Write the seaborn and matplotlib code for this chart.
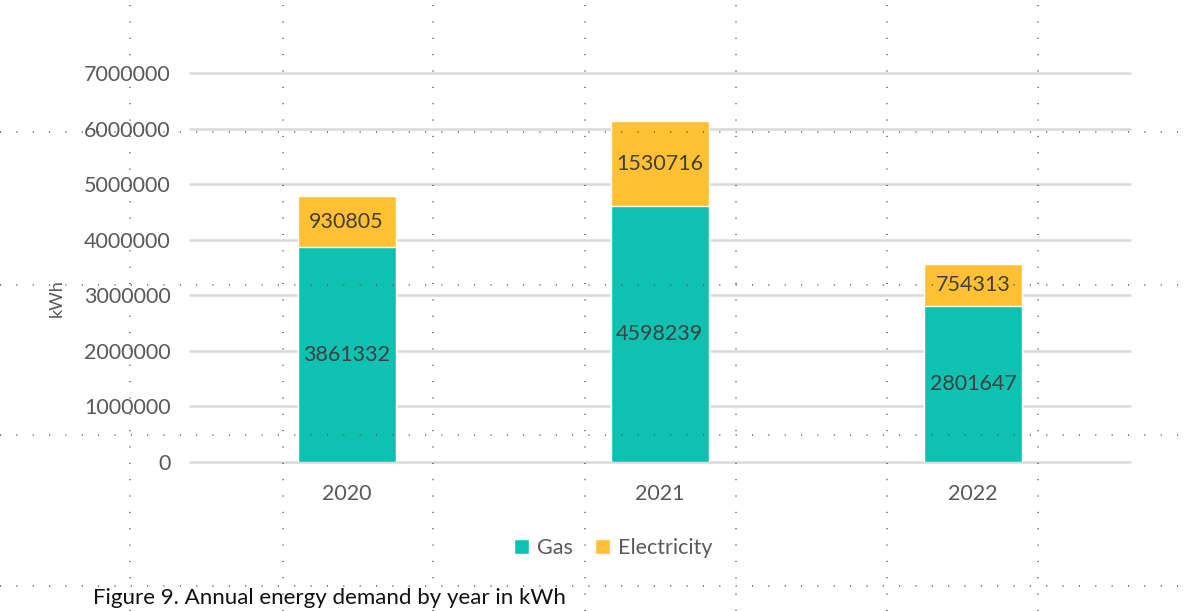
import pandas as pd
import seaborn as sns
import matplotlib.pyplot as plt
from matplotlib.patches import Patch
from matplotlib.lines import Line2D

# -------- DATA --------
years = ["2020", "2021", "2022"]
gas = [3861332, 4598239, 2801647]
electricity = [930805, 1530716, 754313]
y_ticks = [0, 1000000, 2000000, 3000000, 4000000, 5000000, 6000000, 7000000]

GAS_COLOR = "#0EC1B1"
ELEC_COLOR = "#FFC034"

df = pd.DataFrame({"year": years, "gas": gas, "electricity": electricity})
df["total"] = df["gas"] + df["electricity"]

# -------- PLOT --------
sns.set_style("white")
plt.rcParams["font.family"] = ["Lato", "DejaVu Sans"]

fig = plt.figure(figsize=(11.84, 6.11), dpi=100)
ax = fig.add_axes([0.1605, 0.2439, 0.7935, 0.6366])

# stacked: total in orange, gas drawn over it
sns.barplot(data=df, x="year", y="total", color=ELEC_COLOR, width=0.313,
            saturation=1, ax=ax, zorder=3)
sns.barplot(data=df, x="year", y="gas", color=GAS_COLOR, width=0.313,
            saturation=1, ax=ax, zorder=4)

for i, row in df.iterrows():
    ax.text(i, row["gas"] / 2, str(row["gas"]), ha="center", va="center",
            fontsize=15.5, color="#404040", zorder=5)
    ax.text(i, row["gas"] + row["electricity"] / 2, str(row["electricity"]),
            ha="center", va="center", fontsize=15.5, color="#404040", zorder=5)

ax.set_ylim(0, 7000000)
ax.set_xlim(-0.5, 2.5)
ax.set_yticks(y_ticks)
ax.set_yticklabels([str(t) for t in y_ticks])
ax.yaxis.grid(True, color="#D9D9D9", linewidth=1.8, zorder=0)
for gl in ax.yaxis.get_gridlines():
    gl.set_clip_on(False)
ax.set_axisbelow(True)
for s in ax.spines.values():
    s.set_visible(False)
ax.tick_params(axis="both", length=0, labelsize=15.5, labelcolor="#595959")
ax.tick_params(axis="y", pad=14)
ax.tick_params(axis="x", pad=16)

ax.set_xlabel("")
ax.set_ylabel("kWh", fontsize=13, color="#595959")
ax.yaxis.set_label_coords(-0.133, 0.42)

handles = [Patch(facecolor=GAS_COLOR, label="Gas"),
           Patch(facecolor=ELEC_COLOR, label="Electricity")]
fig.legend(handles=handles, loc="center", bbox_to_anchor=(0.518, 0.103), ncol=2,
           frameon=False, fontsize=15.5, handlelength=0.7, handleheight=0.7,
           handletextpad=0.4, columnspacing=1.0, labelcolor="#595959")

fig.text(0.0785, 0.011, "Figure 9. Annual energy demand by year in kWh",
         fontsize=16, color="#111111", ha="left", va="baseline")

# document table gridlines (dotted) seen in the screenshot
for xp in [130, 283, 433, 585, 736, 887, 1038]:
    fig.add_artist(Line2D([xp / 1184, xp / 1184], [0, 1], transform=fig.transFigure,
                          linestyle=(0, (0.7, 10)), linewidth=1.1, color="#555555"))
for yp in [132, 285, 435, 586]:
    fig.add_artist(Line2D([0, 1], [1 - yp / 611, 1 - yp / 611], transform=fig.transFigure,
                          linestyle=(0, (0.7, 10)), linewidth=1.1, color="#555555"))

plt.savefig("out.png", dpi=100)
